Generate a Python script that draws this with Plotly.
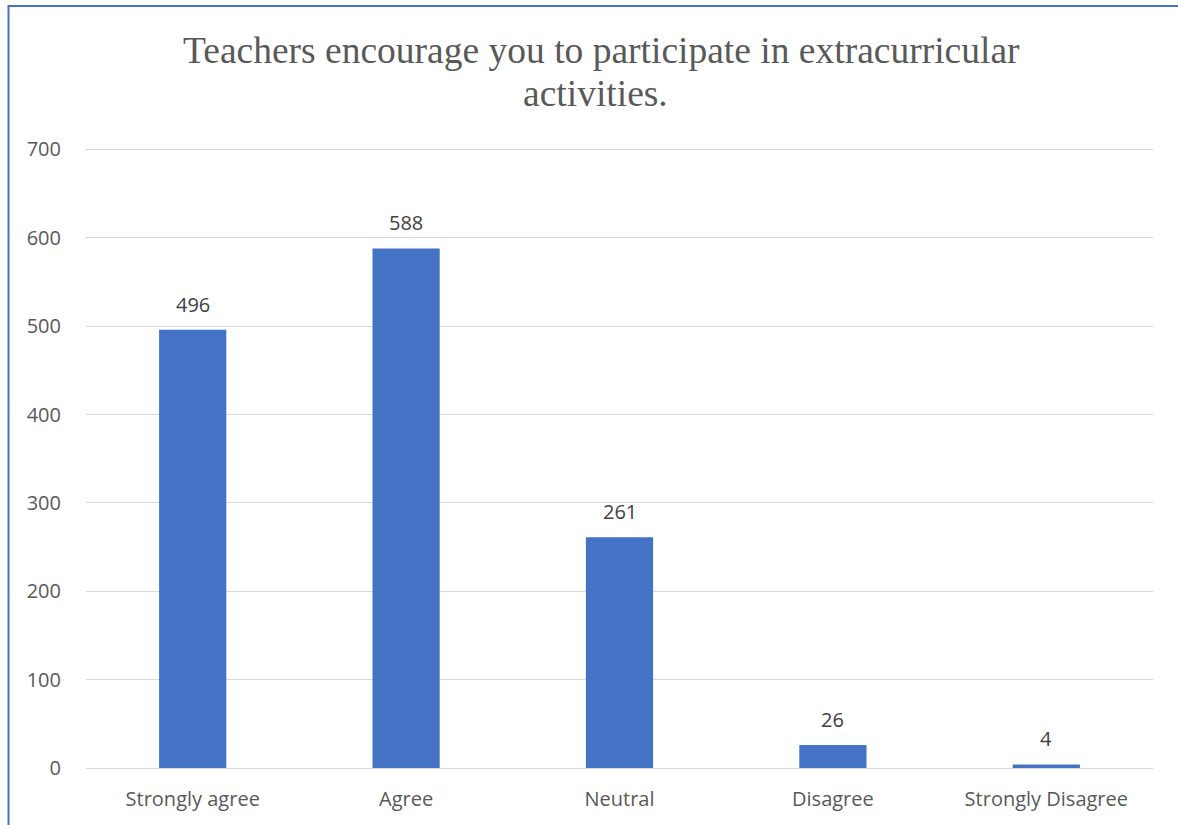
import plotly.graph_objects as go

categories = ["Strongly agree", "Agree", "Neutral", "Disagree", "Strongly Disagree"]
values = [496, 588, 261, 26, 4]
y_ticks = [0, 100, 200, 300, 400, 500, 600, 700]
title_lines = ["Teachers encourage you to participate in extracurricular", "activities."]

W, H = 1178, 825
L, R, T, B = 86, 25, 145, 57
pw = W - L - R
ph = H - T - B

fig = go.Figure(go.Bar(
    x=categories, y=values,
    marker=dict(color="#4472C4", line=dict(width=0)),
    hoverinfo="x+y",
))

annotations = []
for c, v in zip(categories, values):
    annotations.append(dict(
        x=c, y=v, xref="x", yref="y", text=str(v), showarrow=False,
        yanchor="bottom", xanchor="center", yshift=10,
        font=dict(family="Open Sans", size=20, color="#404040"),
    ))

def py(pix):
    return (H - B - pix) / ph

def px(pix):
    return (pix - L) / pw

annotations.append(dict(
    x=px(601), y=py(28), xref="paper", yref="paper", text=title_lines[0],
    showarrow=False, xanchor="center", yanchor="top",
    font=dict(family="Liberation Serif", size=37.5, color="#595959"),
))
annotations.append(dict(
    x=px(595), y=py(71), xref="paper", yref="paper", text=title_lines[1],
    showarrow=False, xanchor="center", yanchor="top",
    font=dict(family="Liberation Serif", size=37.5, color="#595959"),
))

fig.update_layout(
    width=W, height=H,
    margin=dict(l=L, r=R, t=T, b=B, autoexpand=False),
    paper_bgcolor="white", plot_bgcolor="white",
    bargap=0.685,
    showlegend=False,
    annotations=annotations,
    xaxis=dict(
        showgrid=False, showline=True, linecolor="#d9d9d9", linewidth=1,
        ticks="", tickfont=dict(family="Open Sans", size=20, color="#595959"),
        ticklabelstandoff=13,
    ),
    yaxis=dict(
        range=[0, 705], tickvals=y_ticks, showgrid=True, gridcolor="#d9d9d9",
        gridwidth=1, zeroline=False, showline=False, ticks="",
        tickfont=dict(family="Open Sans", size=20, color="#595959"),
        ticklabelstandoff=24,
    ),
    shapes=[dict(
        type="rect", xref="paper", yref="paper",
        x0=px(8.5), x1=1.2, y0=-0.3, y1=py(6),
        line=dict(color="#4472C4", width=2), fillcolor="rgba(0,0,0,0)",
    )],
)

fig.write_html(
    "out.html",
    config={"displayModeBar": False},
    post_script="document.body.style.margin='0';document.body.style.overflow='hidden';",
)
